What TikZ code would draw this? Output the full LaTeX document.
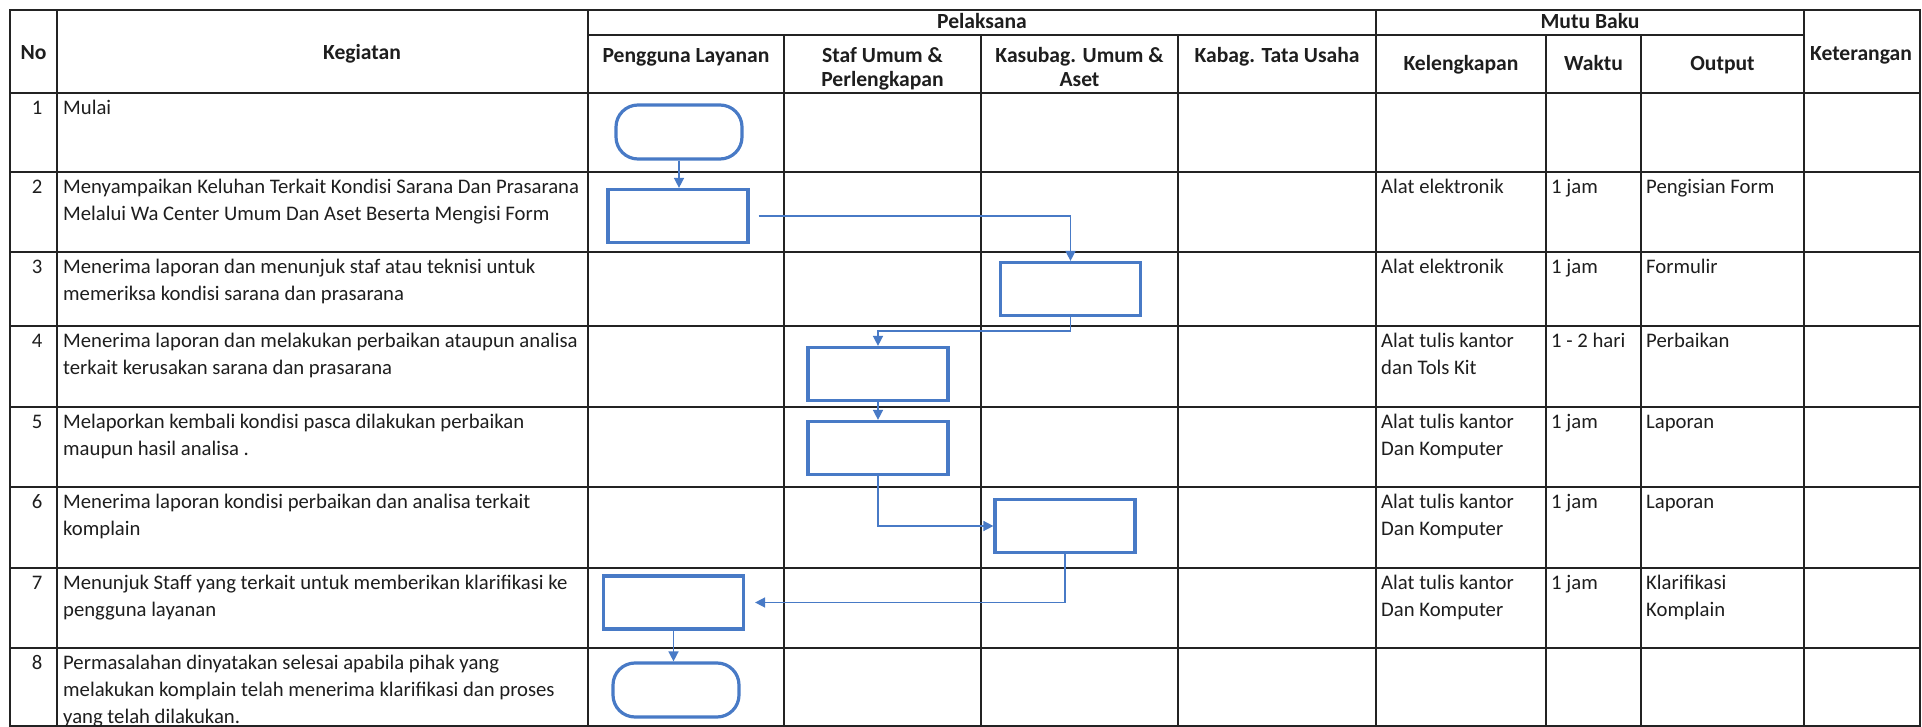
\documentclass[tikz,border=0pt]{standalone}
\usepackage{fontspec}
\setmainfont{Carlito}
\usetikzlibrary{arrows.meta}
\definecolor{flowblue}{RGB}{72,122,198}
\definecolor{gridc}{RGB}{35,35,35}
\definecolor{txtc}{RGB}{30,30,30}
\newcommand\myCellFont{\fontsize{20.7}{27}\selectfont}
\newcommand\myHdrFont{\fontsize{21.6}{24}\selectfont\bfseries}
\begin{document}
\begin{tikzpicture}[x=1pt,y=-1pt,
 grid/.style={draw=gridc,line width=1.8pt},
 cell/.style={font=\myCellFont,text=txtc,inner sep=0pt,anchor=north west,align=left},
 num/.style={font=\myCellFont,text=txtc,inner sep=0pt,anchor=north},
 hdr/.style={font=\myHdrFont,text=txtc,inner sep=0pt,align=center,anchor=base},
 hdrtop/.style={font=\myHdrFont,text=txtc,inner sep=0pt,align=center,anchor=north},
 procbox/.style={draw=flowblue,line width=3.2pt,minimum width=140pt,minimum height=53pt,inner sep=0pt},
 termbox/.style={draw=flowblue,line width=3.2pt,rounded corners=22pt,minimum width=126pt,minimum height=54pt,inner sep=0pt},
 flow/.style={draw=flowblue,line width=1.5pt,-{Triangle[length=10pt,width=10pt]}}
]
\fill[white] (0,0) rectangle (1922,727);
\useasboundingbox (0,0) rectangle (1922,727);
% grid
\draw[grid] (10,10) rectangle (1920,726);
\foreach \y in {93,172,252,326,407,487,568,648} \draw[grid] (10,\y) -- (1920,\y);
\draw[grid] (588,35) -- (1804,35);
\foreach \x in {57,588,1376,1804} \draw[grid] (\x,10) -- (\x,726);
\foreach \x in {784,981,1178,1546,1641} \draw[grid] (\x,35) -- (\x,726);
% header
\node[hdr] (hNo) at (33.5,60) {No};
\node[hdr] (hKeg) at (362,60) {Kegiatan};
\node[hdr] (hPel) at (982,29) {Pelaksana};
\node[hdr] (hMutu) at (1590,29) {Mutu Baku};
\node[hdrtop] (hPeng) at (686,45.2) {\strut Pengguna Layanan};
\node[hdrtop] (hStaf) at (882.5,45.2) {\strut Staf Umum \&\\Perlengkapan};
\node[hdrtop] (hKas) at (1079.5,45.2) {\strut Kasubag. Umum \&\\Aset};
\node[hdrtop] (hKab) at (1277,45.2) {\strut Kabag. Tata Usaha};
\node[hdr] (hKel) at (1461,71) {Kelengkapan};
\node[hdr] (hWak) at (1593.5,71) {Waktu};
\node[hdr] (hOut) at (1722.5,71) {Output};
\node[hdr] (hKet) at (1861,61) {Keterangan};
% numbers
\node[num] (n1) at (37,95.1) {\strut 1};
\node[num] (n2) at (37,174.1) {\strut 2};
\node[num] (n3) at (37,254.1) {\strut 3};
\node[num] (n4) at (37,328.1) {\strut 4};
\node[num] (n5) at (37,409.1) {\strut 5};
\node[num] (n6) at (37,489.1) {\strut 6};
\node[num] (n7) at (37,570.1) {\strut 7};
\node[num] (n8) at (37,650.1) {\strut 8};
% kegiatan
\node[cell] (k1) at (63,95.1) {\strut Mulai};
\node[cell] (k2) at (63,174.1) {\strut Menyampaikan Keluhan Terkait Kondisi Sarana Dan Prasarana\\Melalui Wa Center Umum Dan Aset Beserta Mengisi Form};
\node[cell] (k3) at (63,254.1) {\strut Menerima laporan dan menunjuk staf atau teknisi untuk\\memeriksa kondisi sarana dan prasarana};
\node[cell] (k4) at (63,328.1) {\strut Menerima laporan dan melakukan perbaikan ataupun analisa\\terkait kerusakan sarana dan prasarana};
\node[cell] (k5) at (63,409.1) {\strut Melaporkan kembali kondisi pasca dilakukan perbaikan\\maupun hasil analisa .};
\node[cell] (k6) at (63,489.1) {\strut Menerima laporan kondisi perbaikan dan analisa terkait\\komplain};
\node[cell] (k7) at (63,570.1) {\strut Menunjuk Staff yang terkait untuk memberikan klarifikasi ke\\pengguna layanan};
\node[cell] (k8) at (63,650.1) {\strut Permasalahan dinyatakan selesai apabila pihak yang\\melakukan komplain telah menerima klarifikasi dan proses\\yang telah dilakukan.};
% mutu baku
\node[cell] (l2) at (1381,174.1) {\strut Alat elektronik};
\node[cell] (w2) at (1551,174.1) {\strut 1 jam};
\node[cell] (o2) at (1646,174.1) {\strut Pengisian Form};
\node[cell] (l3) at (1381,254.1) {\strut Alat elektronik};
\node[cell] (w3) at (1551,254.1) {\strut 1 jam};
\node[cell] (o3) at (1646,254.1) {\strut Formulir};
\node[cell] (l4) at (1381,328.1) {\strut Alat tulis kantor\\dan Tols Kit};
\node[cell] (w4) at (1551,328.1) {\strut 1 - 2 hari};
\node[cell] (o4) at (1646,328.1) {\strut Perbaikan};
\node[cell] (l5) at (1381,409.1) {\strut Alat tulis kantor\\Dan Komputer};
\node[cell] (w5) at (1551,409.1) {\strut 1 jam};
\node[cell] (o5) at (1646,409.1) {\strut Laporan};
\node[cell] (l6) at (1381,489.1) {\strut Alat tulis kantor\\Dan Komputer};
\node[cell] (w6) at (1551,489.1) {\strut 1 jam};
\node[cell] (o6) at (1646,489.1) {\strut Laporan};
\node[cell] (l7) at (1381,570.1) {\strut Alat tulis kantor\\Dan Komputer};
\node[cell] (w7) at (1551,570.1) {\strut 1 jam};
\node[cell] (o7) at (1646,570.1) {\strut Klarifikasi\\Komplain};
% flow
\node[termbox] (t1) at (679,132) {};
\node[procbox] (b2) at (678,216) {};
\node[procbox] (b3) at (1070.5,289) {};
\node[procbox] (b4) at (878,374) {};
\node[procbox] (b5) at (878,448) {};
\node[procbox] (b6) at (1065,526) {};
\node[procbox] (b7) at (673.5,602.5) {};
\node[termbox] (t2) at (676,690) {};
\draw[flow] (t1.south) -- (t1.south |- b2.north);
\draw[flow] ([xshift=9pt]b2.east) -| (b3.north);
\draw[flow] (b3.south) -- ++(0,14) -| (b4.north);
\draw[flow] (b4.south) -- (b5.north);
\draw[flow] (b5.south) |- (b6.west);
\draw[flow] (b6.south) |- ([xshift=10pt]b7.east);
\draw[flow] (b7.south) -- (b7.south |- t2.north);
\end{tikzpicture}
\end{document}
